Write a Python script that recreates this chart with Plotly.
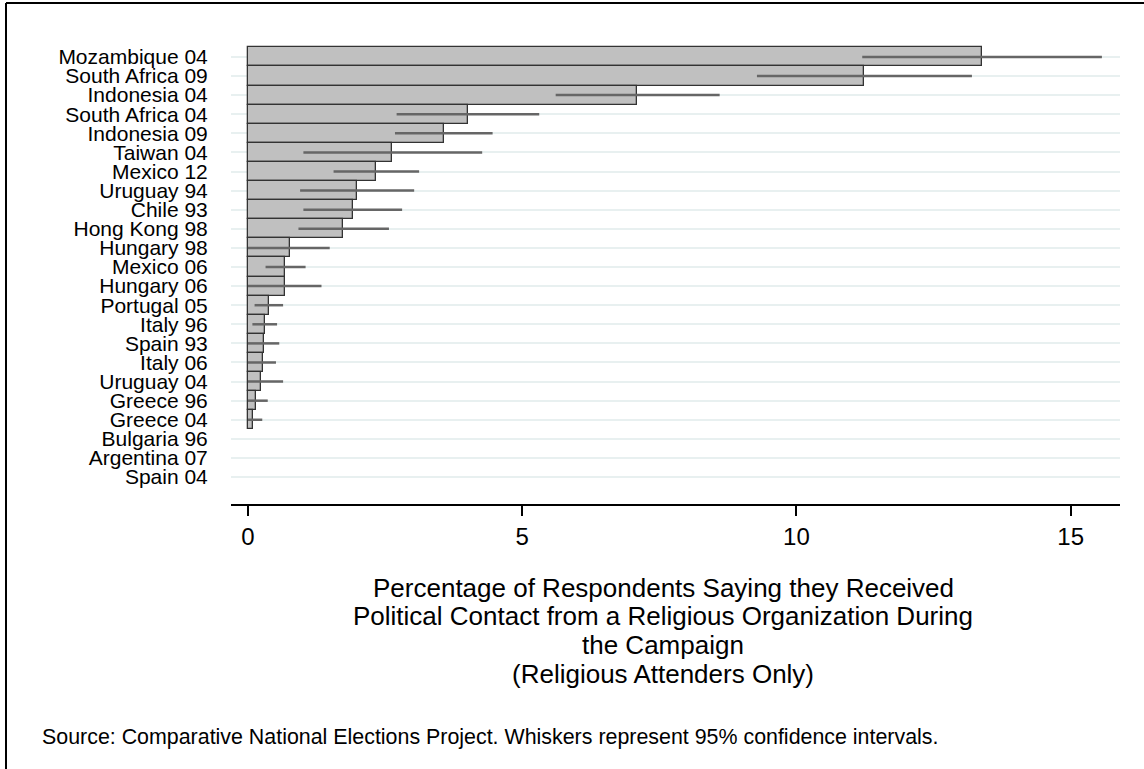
import plotly.graph_objects as go

# ---------------- data ----------------
countries = ["Mozambique 04", "South Africa 09", "Indonesia 04", "South Africa 04",
             "Indonesia 09", "Taiwan 04", "Mexico 12", "Uruguay 94", "Chile 93",
             "Hong Kong 98", "Hungary 98", "Mexico 06", "Hungary 06", "Portugal 05",
             "Italy 96", "Spain 93", "Italy 06", "Uruguay 04", "Greece 96", "Greece 04",
             "Bulgaria 96", "Argentina 07", "Spain 04"]
values = [13.39, 11.24, 7.10, 4.01, 3.57, 2.63, 2.34, 1.99, 1.91, 1.74, 0.76, 0.68,
          0.68, 0.38, 0.31, 0.29, 0.27, 0.23, 0.14, 0.10, 0.0, 0.0, 0.0]
ci_low = [11.20, 9.28, 5.61, 2.71, 2.68, 1.01, 1.56, 0.95, 1.01, 0.92, 0.0, 0.32,
          0.0, 0.12, 0.08, 0.0, 0.0, 0.0, 0.0, 0.0, 0.0, 0.0, 0.0]
ci_high = [15.57, 13.20, 8.60, 5.31, 4.46, 4.27, 3.12, 3.03, 2.81, 2.57, 1.49, 1.05,
           1.34, 0.64, 0.53, 0.57, 0.51, 0.64, 0.36, 0.26, 0.0, 0.0, 0.0]
x_ticks = [0, 5, 10, 15]

x_title_lines = ["Percentage of Respondents Saying they Received",
                 "Political Contact from a Religious Organization During",
                 "the Campaign",
                 "(Religious Attenders Only)"]
source_note = "Source: Comparative National Elections Project. Whiskers represent 95% confidence intervals."

# ---------------- layout geometry (pixels) ----------------
W, H = 1144, 769
ML, MR, MT, MB = 231, 24, 30, 265
PW, PH = W - ML - MR, H - MT - MB

def px_x(x):
    return (x - ML) / PW

def px_y(y):
    return (H - MB - y) / PH

pos = list(range(len(countries)))
err_plus = [h - v for h, v in zip(ci_high, values)]
err_minus = [v - l for v, l in zip(values, ci_low)]
outline_w = [1.3 if v > 0 else 0 for v in values]

FONT = "Liberation Sans, Arial, sans-serif"

fig = go.Figure()
fig.add_trace(go.Bar(
    x=values, y=pos, orientation="h", width=1.0,
    marker=dict(color="#c0c0c0", line=dict(color="#333333", width=outline_w)),
    error_x=dict(type="data", symmetric=False, array=err_plus, arrayminus=err_minus,
                 color="#666666", thickness=2.5, width=0),
    showlegend=False, hoverinfo="skip",
))

fig.update_layout(
    width=W, height=H,
    margin=dict(l=ML, r=MR, t=MT, b=MB, autoexpand=False),
    paper_bgcolor="white", plot_bgcolor="white",
    font=dict(family=FONT, color="black", size=21),
    bargap=0,
    xaxis=dict(range=[-0.31, 15.9], tickvals=x_ticks, ticks="outside", ticklen=10,
               tickwidth=1.5, tickcolor="black", showline=True, linecolor="black",
               linewidth=2, showgrid=False, zeroline=False,
               tickfont=dict(size=24, family=FONT)),
    yaxis=dict(range=[len(countries) - 1 + 1.41, -1.41], tickvals=pos, ticktext=countries,
               ticks="outside", ticklen=18, tickcolor="rgba(0,0,0,0)",
               showline=False, showgrid=True, gridcolor="#e8f0f0", gridwidth=2,
               zeroline=False, tickfont=dict(size=21, family=FONT)),
)

title_y = [587.5, 616, 644.6, 673.5]
for line, yy in zip(x_title_lines, title_y):
    fig.add_annotation(text=line, x=px_x(663), y=px_y(yy), xref="paper", yref="paper",
                       xanchor="center", yanchor="middle", showarrow=False,
                       font=dict(size=26, family=FONT, color="black"))
fig.add_annotation(text=source_note, x=px_x(40), y=px_y(737), xref="paper", yref="paper",
                   xanchor="left", yanchor="middle", showarrow=False, align="left",
                   font=dict(size=21.4, family=FONT, color="black"))

# outer frame (top and left edges visible in the crop)
fig.add_shape(type="line", xref="paper", yref="paper", x0=px_x(6), x1=px_x(1150),
              y0=px_y(3), y1=px_y(3), line=dict(color="black", width=2))
fig.add_shape(type="line", xref="paper", yref="paper", x0=px_x(6), x1=px_x(6),
              y0=px_y(3), y1=px_y(775), line=dict(color="black", width=2))

fig.write_html("out.html", config={"displayModeBar": False},
               post_script="document.body.style.margin='0px';")
